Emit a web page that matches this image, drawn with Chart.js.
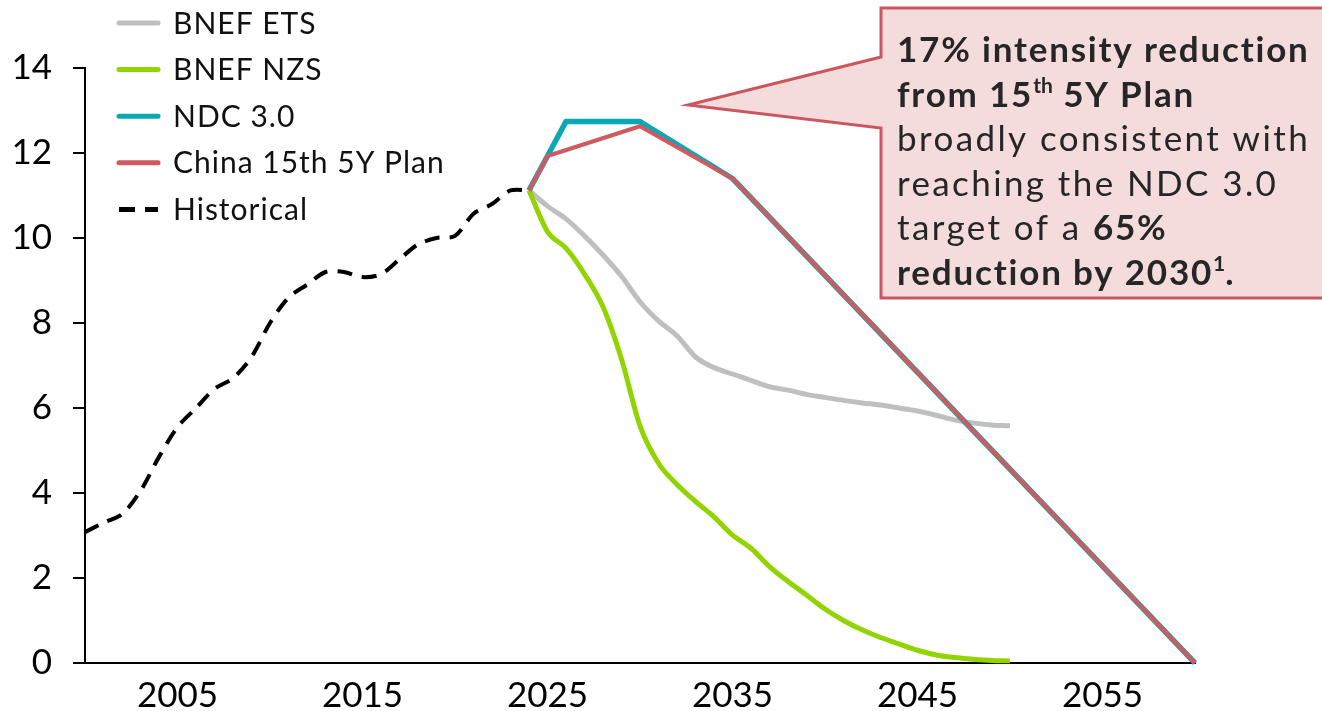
<!DOCTYPE html>
<html>
<head>
<meta charset="utf-8">
<script src="https://cdn.jsdelivr.net/npm/chart.js@4.4.0/dist/chart.umd.min.js"></script>
<style>
  html, body { margin: 0; padding: 0; background: #fff; }
</style>
</head>
<body>
<canvas id="myChart" width="1322" height="711"></canvas>
<script>
// values
const histYears = [2000, 2001, 2002, 2003, 2004, 2005, 2006, 2007, 2008, 2009, 2010, 2011, 2012,
                   2013, 2014, 2015, 2016, 2017, 2018, 2019, 2020, 2021, 2022, 2023, 2024];
const histValues = [3.08, 3.3, 3.5, 4.05, 4.85, 5.55, 6.0, 6.45, 6.7, 7.2, 8.0, 8.6, 8.9,
                    9.2, 9.2, 9.08, 9.15, 9.5, 9.85, 10.0, 10.05, 10.57, 10.8, 11.12, 11.12];

const bnefYears = [2024, 2025, 2026, 2027, 2028, 2029, 2030, 2031, 2032, 2033, 2034, 2035, 2036, 2037,
                   2038, 2039, 2040, 2041, 2042, 2043, 2044, 2045, 2046, 2047, 2048, 2049, 2050];
const etsValues = [11.12, 10.75, 10.45, 10.05, 9.6, 9.1, 8.5, 8.05, 7.7, 7.2, 6.95, 6.8, 6.65, 6.5,
                   6.42, 6.32, 6.25, 6.18, 6.12, 6.07, 6.0, 5.93, 5.83, 5.72, 5.65, 5.6, 5.58];
const nzsValues = [11.12, 10.15, 9.76, 9.15, 8.38, 7.15, 5.58, 4.7, 4.2, 3.8, 3.44, 3.01, 2.7, 2.27,
                   1.92, 1.6, 1.27, 1.0, 0.78, 0.6, 0.45, 0.3, 0.19, 0.13, 0.09, 0.06, 0.05];

const ndcYears = [2024, 2025, 2026, 2030, 2035, 2060];
const ndcValues = [11.12, 11.93, 12.74, 12.74, 11.4, 0];

const planYears = [2024, 2025, 2030, 2035, 2060];
const planValues = [11.12, 11.93, 12.63, 11.4, 0];

const xTicks = [2005, 2015, 2025, 2035, 2045, 2055];

const FONT = 'Lato, "DejaVu Sans", sans-serif';

function pts(xs, ys) {
  return xs.map((x, i) => ({ x: x, y: ys[i] }));
}

// legend drawn in the top-left corner, one row per dataset
const cornerLegend = {
  id: 'cornerLegend',
  afterDraw(chart) {
    const ctx = chart.ctx;
    ctx.save();
    chart.data.datasets.forEach((ds, i) => {
      const y = 23 + i * 46.6;
      ctx.beginPath();
      ctx.strokeStyle = ds.borderColor;
      ctx.lineWidth = 5;
      if (ds.borderDash) {
        ctx.setLineDash([16, 10]);
        ctx.lineCap = 'butt';
      } else {
        ctx.setLineDash([]);
        ctx.lineCap = 'round';
      }
      ctx.moveTo(119, y);
      ctx.lineTo(158, y);
      ctx.stroke();
      ctx.setLineDash([]);
      ctx.fillStyle = '#111';
      ctx.font = '30px ' + FONT;
      ctx.letterSpacing = '1px';
      ctx.textBaseline = 'middle';
      ctx.fillText(ds.label, 173, y + 1);
    });
    ctx.restore();
  }
};

// pink callout box with its pointer
const callout = {
  id: 'callout',
  afterDraw(chart) {
    const ctx = chart.ctx;
    ctx.save();
    ctx.beginPath();
    ctx.moveTo(881, 8);
    ctx.lineTo(1330, 8);
    ctx.lineTo(1330, 298);
    ctx.lineTo(881, 298);
    ctx.lineTo(881, 128);
    ctx.lineTo(688, 105);
    ctx.lineTo(881, 57);
    ctx.closePath();
    ctx.fillStyle = '#f4dcdd';
    ctx.fill();
    ctx.strokeStyle = '#cc5660';
    ctx.lineWidth = 3;
    ctx.stroke();

    const lines = [
      [{ t: '17% intensity reduction', b: true }],
      [{ t: 'from 15', b: true }, { t: 'th', b: true, sup: true }, { t: ' 5Y Plan', b: true }],
      [{ t: 'broadly consistent with' }],
      [{ t: 'reaching the NDC 3.0' }],
      [{ t: 'target of a ' }, { t: '65%', b: true }],
      [{ t: 'reduction by 2030', b: true }, { t: '1', b: true, sup: true }, { t: '.', b: true }]
    ];
    ctx.fillStyle = '#262626';
    ctx.textBaseline = 'alphabetic';
    lines.forEach((runs, i) => {
      let x = 897;
      const base = 62 + i * 44.6;
      runs.forEach(r => {
        const size = r.sup ? 21 : 35;
        ctx.font = (r.b ? 'bold ' : '') + size + 'px ' + FONT;
        ctx.letterSpacing = r.sup ? '0px' : (r.b ? '1.8px' : '2.4px');
        ctx.fillText(r.t, x, r.sup ? base - 14 : base);
        x += ctx.measureText(r.t).width;
      });
    });
    ctx.restore();
  }
};

const chart = document.getElementById('myChart');

new Chart(chart, {
  type: 'line',
  data: {
    datasets: [
      {
        label: 'BNEF ETS',
        data: pts(bnefYears, etsValues),
        borderColor: '#bfbfbf',
        borderWidth: 5,
        cubicInterpolationMode: 'monotone',
        order: 4
      },
      {
        label: 'BNEF NZS',
        data: pts(bnefYears, nzsValues),
        borderColor: '#92d400',
        borderWidth: 5,
        cubicInterpolationMode: 'monotone',
        order: 3
      },
      {
        label: 'NDC 3.0',
        data: pts(ndcYears, ndcValues),
        borderColor: '#0aa7b5',
        borderWidth: 5.5,
        tension: 0,
        order: 2
      },
      {
        label: 'China 15th 5Y Plan',
        data: pts(planYears, planValues),
        borderColor: '#cf5a60',
        borderWidth: 4,
        tension: 0,
        order: 1
      },
      {
        label: 'Historical',
        data: pts(histYears, histValues),
        borderColor: '#000000',
        borderWidth: 4,
        borderDash: [15, 10],
        tension: 0.3,
        order: 0
      }
    ]
  },
  options: {
    responsive: false,
    animation: false,
    clip: false,
    layout: {
      padding: { top: 68, right: 127, left: 0, bottom: 0 }
    },
    elements: {
      point: { radius: 0 },
      line: { borderCapStyle: 'butt', borderJoinStyle: 'round' }
    },
    plugins: {
      legend: { display: false },
      tooltip: { enabled: false }
    },
    scales: {
      x: {
        type: 'linear',
        min: 2000,
        max: 2060,
        afterBuildTicks: axis => { axis.ticks = xTicks.map(v => ({ value: v })); },
        afterFit: s => { s.height = 48; },
        grid: { display: false },
        border: { display: true, color: '#000', width: 2 },
        ticks: {
          color: '#000',
          padding: 4,
          font: { family: FONT, size: 35 },
          callback: v => String(v)
        }
      },
      y: {
        min: 0,
        max: 14,
        afterFit: s => { s.width = 85; },
        grid: {
          drawOnChartArea: false,
          drawTicks: true,
          tickLength: 12,
          color: '#000',
          lineWidth: 2
        },
        border: { display: true, color: '#000', width: 2 },
        ticks: {
          stepSize: 2,
          color: '#000',
          padding: 21,
          font: { family: FONT, size: 35 }
        }
      }
    }
  },
  plugins: [cornerLegend, callout]
});
</script>
</body>
</html>
